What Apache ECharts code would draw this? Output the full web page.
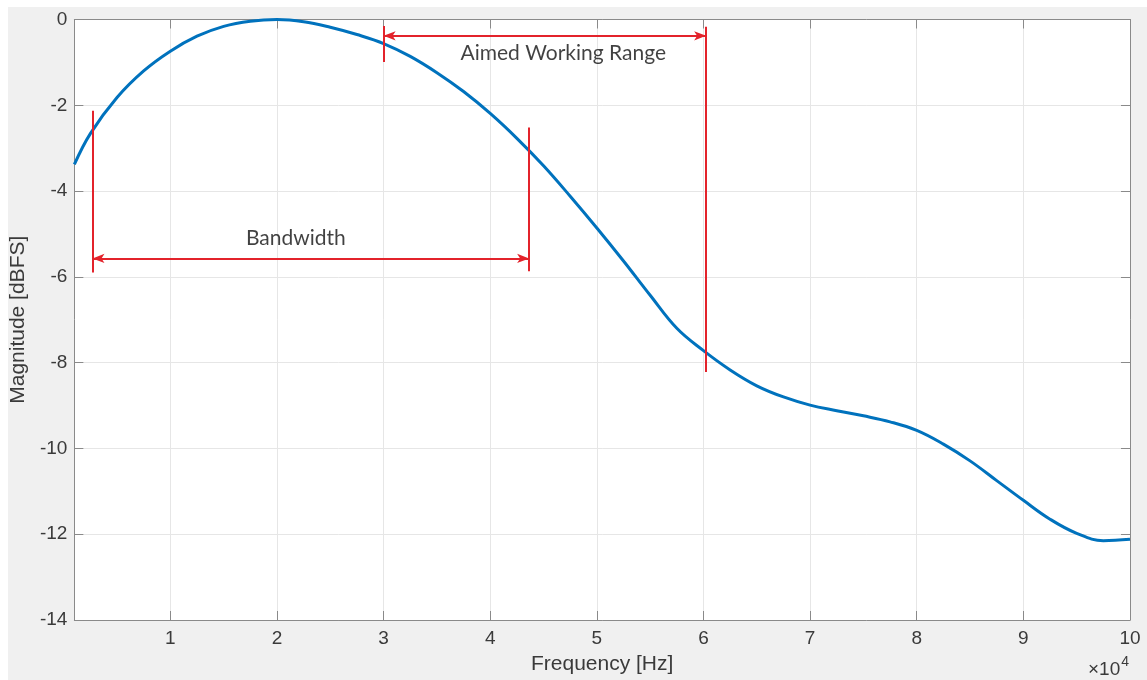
<!DOCTYPE html>
<html>
<head>
<meta charset="utf-8">
<script src="https://cdn.jsdelivr.net/npm/echarts@6/dist/echarts.min.js"></script>
<style>
html,body{margin:0;padding:0;background:#fff;}
#chart{width:1147px;height:680px;}
</style>
</head>
<body>
<div id="chart"></div>
<script>
// ---- data ----
const freqHz = [1000, 2500, 5000, 7500, 10000, 12500, 15000, 17500, 20000, 22500, 25000, 27500, 30000, 32500, 35000, 37500, 40000, 42500, 45000, 47500, 50000, 52500, 55000, 57500, 60000, 62500, 65000, 67500, 70000, 72500, 75000, 77500, 80000, 82500, 85000, 87500, 90000, 92500, 95000, 97500, 100000];
const magnitudeDb = [-3.38, -2.66, -1.82, -1.20, -0.74, -0.39, -0.16, -0.04, 0.00, -0.05, -0.18, -0.35, -0.56, -0.86, -1.24, -1.68, -2.19, -2.77, -3.41, -4.12, -4.86, -5.63, -6.43, -7.20, -7.72, -8.17, -8.54, -8.80, -8.99, -9.12, -9.24, -9.38, -9.58, -9.90, -10.29, -10.75, -11.21, -11.65, -11.98, -12.15, -12.12];

const xTicks = [10000, 20000, 30000, 40000, 50000, 60000, 70000, 80000, 90000, 100000];
const yTicks = [0, -2, -4, -6, -8, -10, -12, -14];

// annotation markers: [freq, yTop, yBottom]
const bandwidthEdges = [[2700, -2.13, -5.90], [43650, -2.52, -5.87]];
const bandwidthArrow = [2700, 43650, -5.57];
const workingEdges = [[30000, -0.15, -0.99], [60250, -0.17, -8.22]];
const workingArrow = [30000, 60250, -0.38];
const annotationTexts = [[21770, -5.10, 'Bandwidth'], [46850, -0.78, 'Aimed Working Range']];

const curve = freqHz.map((f, i) => [f, magnitudeDb[i]]);

const RED = '#e3232b';
const AXC = '#8a8a8a';
const TXT = '#3a3a3a';

function vLine(e) {
  return [{coord: [e[0], e[1]], symbol: 'none'}, {coord: [e[0], e[2]], symbol: 'none'}];
}
function hArrow(a) {
  return [{coord: [a[0], a[2]], symbol: 'arrow'}, {coord: [a[1], a[2]], symbol: 'arrow'}];
}

const chart = echarts.init(document.getElementById('chart'), null, {renderer: 'canvas'});

const xCommon = {
  type: 'value', min: 1000, max: 100000,
  axisLine: {show: true, onZero: false, lineStyle: {color: AXC, width: 1}},
  axisTick: {show: true, inside: true, length: 9, customValues: xTicks, lineStyle: {color: AXC}},
};
const yCommon = {
  type: 'value', min: -14, max: 0, interval: 2,
  axisLine: {show: true, onZero: false, lineStyle: {color: AXC, width: 1}},
  axisTick: {show: true, inside: true, length: 9, lineStyle: {color: AXC}},
};

chart.setOption({
  animation: false,
  backgroundColor: '#ffffff',
  graphic: [
    {type: 'rect', z: -10, shape: {x: 8, y: 7, width: 1147, height: 680}, style: {fill: '#f0f0f0'}},
    {type: 'text', left: 1088, top: 655, style: {
      text: '{a|×10}{b|4}', rich: {
        a: {fontFamily: 'Liberation Sans', fontSize: 19, fill: TXT, verticalAlign: 'bottom', lineHeight: 22},
        b: {fontFamily: 'Liberation Sans', fontSize: 14, fill: TXT, verticalAlign: 'top', padding: [0, 0, 10, 1]}
      }}}
  ],
  grid: {left: 72, right: 17, top: 19.5, bottom: 59, show: true, backgroundColor: '#ffffff', borderWidth: 0},
  xAxis: [
    Object.assign({}, xCommon, {
      position: 'bottom',
      name: 'Frequency [Hz]', nameLocation: 'middle', nameGap: 34,
      nameTextStyle: {fontFamily: 'Liberation Sans', fontSize: 21, color: TXT},
      axisLabel: {customValues: xTicks, margin: 9, fontFamily: 'Liberation Sans', fontSize: 19, color: TXT,
        formatter: v => String(Math.round(v / 10000))},
      splitLine: {show: true, lineStyle: {color: '#e6e6e6', width: 1}}
    }),
    Object.assign({}, xCommon, {
      position: 'top', axisLabel: {show: false}, splitLine: {show: false}
    })
  ],
  yAxis: [
    Object.assign({}, yCommon, {
      position: 'left',
      name: 'Magnitude [dBFS]', nameLocation: 'middle', nameGap: 40, nameRotate: 90,
      nameTextStyle: {fontFamily: 'Liberation Sans', fontSize: 21, color: TXT},
      axisLabel: {margin: 7, fontFamily: 'Liberation Sans', fontSize: 19, color: TXT},
      splitLine: {show: true, lineStyle: {color: '#e6e6e6', width: 1}}
    }),
    Object.assign({}, yCommon, {
      position: 'right', axisLabel: {show: false}, splitLine: {show: false}
    })
  ],
  series: [
    {
      type: 'line', data: curve, smooth: 0.4, showSymbol: false, symbol: 'none',
      lineStyle: {color: '#0072BD', width: 3}, z: 3,
      markLine: {
        silent: true, animation: false, precision: 6,
        symbolSize: [7, 12],
        lineStyle: {color: RED, width: 2, type: 'solid'},
        label: {show: false},
        emphasis: {disabled: true},
        data: [
          vLine(bandwidthEdges[0]), vLine(bandwidthEdges[1]), hArrow(bandwidthArrow),
          vLine(workingEdges[0]), vLine(workingEdges[1]), hArrow(workingArrow)
        ]
      }
    },
    {
      type: 'scatter', data: annotationTexts, symbolSize: 0, silent: true, z: 5,
      label: {show: true, position: 'inside', formatter: p => p.value[2],
        fontFamily: 'Lato', fontSize: 21, color: '#111111'}
    }
  ]
});
</script>
</body>
</html>
